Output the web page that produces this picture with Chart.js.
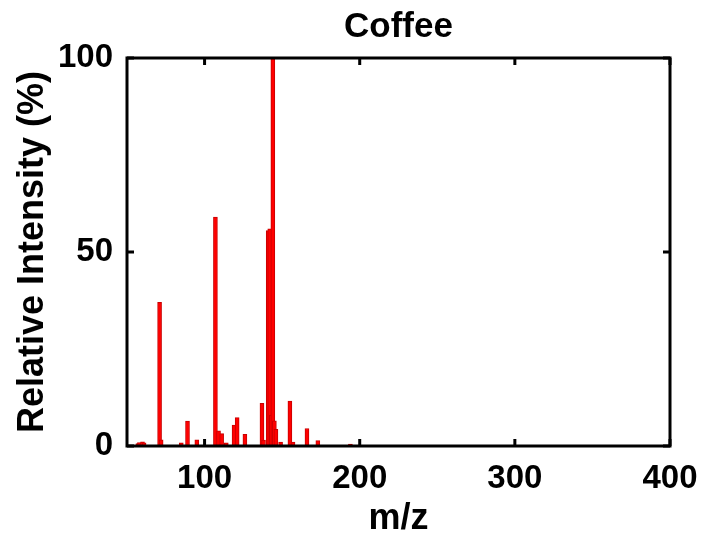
<!DOCTYPE html>
<html>
<head>
<meta charset="utf-8">
<script src="https://cdn.jsdelivr.net/npm/chart.js@4.4.1/dist/chart.umd.min.js"></script>
<style>
  html, body { margin: 0; padding: 0; background: #fff; }
  #wrap { width: 702px; height: 544px; }
</style>
</head>
<body>
<div id="wrap"><canvas id="spectrum"></canvas></div>
<script>
// mass spectrum peaks: m/z and relative intensity (%)
const mz = [57, 58, 60, 61, 71, 72, 85, 89, 95, 107, 109, 111, 114, 119, 121, 126,
            137, 138, 141, 142, 143, 144, 145, 146, 149, 155, 157, 166, 173, 194];
const intensity = [0.6, 0.9, 1.1, 0.8, 37, 1.6, 0.8, 6.4, 1.6, 59, 3.9, 3.2, 0.8, 5.4, 7.3, 3,
                   11, 1.5, 55.5, 56, 8, 100, 6.5, 4.3, 1, 11.6, 1, 4.5, 1.4, 0.5];
const xTicks = [100, 200, 300, 400];
const yTicks = [0, 50, 100];

const FONT = '"Liberation Sans", Arial, sans-serif';
Chart.defaults.color = "#000";
Chart.defaults.font.family = FONT;

// box around the plot with inward tick marks, matlab style
const frame = {
    id: "frame",
    afterDraw(chart) {
        const { ctx, chartArea: a, scales: { x, y } } = chart;
        const len = 7;
        ctx.save();
        ctx.strokeStyle = "#000";
        ctx.lineWidth = 3;
        ctx.strokeRect(a.left, a.top, a.right - a.left, a.bottom - a.top);
        ctx.beginPath();
        xTicks.forEach(v => {
            const px = x.getPixelForValue(v);
            ctx.moveTo(px, a.bottom); ctx.lineTo(px, a.bottom - len);
            ctx.moveTo(px, a.top); ctx.lineTo(px, a.top + len);
        });
        yTicks.forEach(v => {
            const py = y.getPixelForValue(v);
            ctx.moveTo(a.left, py); ctx.lineTo(a.left + len, py);
            ctx.moveTo(a.right, py); ctx.lineTo(a.right - len, py);
        });
        ctx.stroke();
        ctx.restore();
    }
};

const ctx = document.getElementById("spectrum").getContext("2d");
new Chart(ctx, {
    type: "bar",
    data: {
        datasets: [{
            data: mz.map((m, i) => ({ x: m, y: intensity[i] })),
            backgroundColor: "rgb(255,0,0)",
            borderColor: "rgb(200,0,0)",
            borderWidth: 1,
            barThickness: 4
        }]
    },
    options: {
        responsive: true,
        maintainAspectRatio: false,
        animation: false,
        layout: { padding: { left: 0, right: 32, top: 0, bottom: 0 } },
        plugins: {
            legend: { display: false },
            tooltip: { enabled: false },
            title: {
                display: true,
                fullSize: false,
                text: "Coffee",
                color: "#000",
                font: { size: 35, weight: "bold" },
                padding: { top: 6, bottom: 10 }
            }
        },
        scales: {
            x: {
                type: "linear",
                min: 50,
                max: 400,
                offset: false,
                grid: { display: false, drawTicks: false },
                border: { display: false },
                ticks: { padding: 13, maxRotation: 0, font: { size: 33, weight: "bold" } },
                title: {
                    display: true,
                    text: "m/z",
                    font: { size: 36, weight: "bold" },
                    padding: { top: 0, bottom: 3 }
                },
                afterBuildTicks: s => { s.ticks = xTicks.map(v => ({ value: v })); },
                afterFit: s => {
                    s.height = 98;
                    // let the "400" label hang past the plot edge
                    s.paddingLeft = 0;
                    s.paddingRight = 0;
                }
            },
            y: {
                min: 0,
                max: 100,
                grid: { display: false, drawTicks: false },
                border: { display: false },
                ticks: { padding: 14, font: { size: 33, weight: "bold" } },
                title: {
                    display: true,
                    text: "Relative Intensity (%)",
                    font: { size: 36, weight: "bold" },
                    padding: { top: 11, bottom: 0 }
                },
                afterBuildTicks: s => { s.ticks = yTicks.map(v => ({ value: v })); },
                afterFit: s => {
                    s.width = 127;
                    s.paddingTop = 0;
                    s.paddingBottom = 0;
                }
            }
        }
    },
    plugins: [frame]
});
</script>
</body>
</html>
